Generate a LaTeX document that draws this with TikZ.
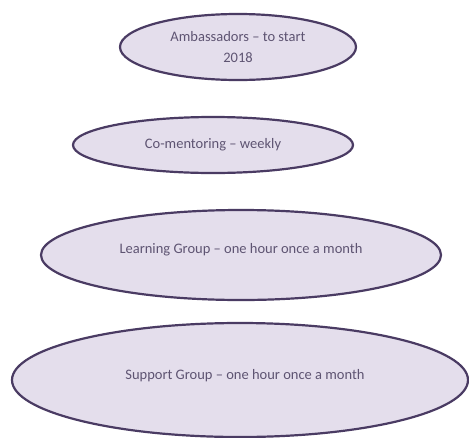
\documentclass[tikz,border=0pt]{standalone}
\usepackage{fontspec}
\setmainfont{Carlito}
\usetikzlibrary{shapes.geometric}
\definecolor{ellfill}{HTML}{E4DEEC}
\definecolor{elldraw}{HTML}{4A3B63}
\definecolor{elltext}{HTML}{5E5472}
\begin{document}
\begin{tikzpicture}[x=1pt,y=-1pt,
  ell/.style={ellipse, draw=elldraw, fill=ellfill, line width=2.2pt, inner sep=0pt},
  lbl/.style={text=elltext, font=\fontsize{14.5}{21}\selectfont, align=center, inner sep=0pt}]
\useasboundingbox (0,0) rectangle (469,437);
\node[ell, minimum width=236pt, minimum height=66pt] (amb) at (238,47) {};
\node[ell, minimum width=280pt, minimum height=56pt] (com) at (213,145) {};
\node[ell, minimum width=400pt, minimum height=90pt] (lea) at (241,255) {};
\node[ell, minimum width=456pt, minimum height=114pt] (sup) at (240,380) {};
\node[lbl] (ambt) at (238,47) {Ambassadors – to start\\2018};
\node[lbl] (comt) at (213,145) {Co-mentoring – weekly};
\node[lbl] (leat) at (241,250) {Learning Group – one hour once a month};
\node[lbl] (supt) at (245,376) {Support Group – one hour once a month};
\end{tikzpicture}
\end{document}
